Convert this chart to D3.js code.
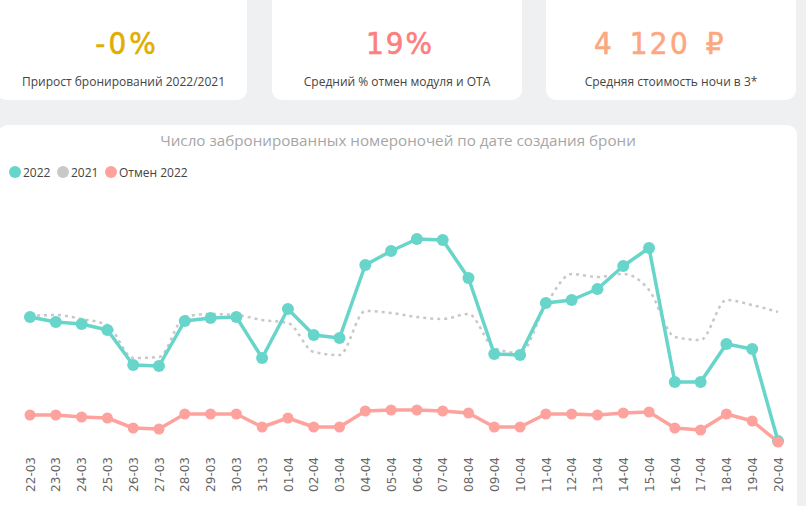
<!DOCTYPE html>
<html>
<head>
<meta charset="utf-8">
<script src="https://cdnjs.cloudflare.com/ajax/libs/d3/7.8.5/d3.min.js"></script>
<style>
html,body{margin:0;padding:0;background:#eff0f2;}
svg{display:block;}
</style>
</head>
<body>
<svg id="chart" width="806" height="506"></svg>
<script>
const dates = ["22-03","23-03","24-03","25-03","26-03","27-03","28-03","29-03","30-03","31-03",
  "01-04","02-04","03-04","04-04","05-04","06-04","07-04","08-04","09-04","10-04",
  "11-04","12-04","13-04","14-04","15-04","16-04","17-04","18-04","19-04","20-04"];
const values2022 = [129,124,122,116,81,80,125,128,129,88,137,111,108,181,195,207,206,168,92,91,143,146,157,180,198,64,64,102,97,5];
const values2021 = [130,131,127,121,88,89,129,132,131,126,123,94,91,135,133,129,127,132,98,93,141,172,169,172,156,109,106,146,141,134];
const valuesCancel2022 = [31,31,29,28,18,17,32,32,32,19,28,19,19,35,36,36,35,33,19,19,32,32,31,33,34,18,16,32,25,4];

const kpiValues = ["-0%", "19%", "4 120 \u20BD"];
const kpiLabels = ["Прирост бронирований 2022/2021", "Средний % отмен модуля и OTA", "Средняя стоимость ночи в 3*"];
const chartTitle = "Число забронированных номероночей по дате создания брони";
const legendLabels = ["2022", "2021", "Отмен 2022"];

const svg = d3.select("#chart");

// KPI cards
const cards = [
  {x: -4, w: 251, color: "#dfae00", nx: 127, ls: 3, ws: 0},
  {x: 272, w: 250, color: "#fc7f7f", nx: 400, ls: 2, ws: 0},
  {x: 546, w: 250, color: "#fda77f", nx: 660, ls: 2.5, ws: 4}
];
cards.forEach((c, i) => {
  svg.append("rect").attr("x", c.x).attr("y", -12).attr("width", c.w).attr("height", 112)
    .attr("rx", 10).attr("fill", "#fff");
  const cx = c.x + c.w / 2 + (i === 0 ? 2 : 0);
  svg.append("text").attr("x", c.nx).attr("y", 54)
    .attr("text-anchor", "middle")
    .attr("font-family", "'DejaVu Sans Condensed', 'DejaVu Sans'")
    .attr("font-size", 31)
    .attr("fill", c.color)
    .attr("stroke", c.color).attr("stroke-width", 0.6)
    .attr("letter-spacing", c.ls)
    .attr("word-spacing", c.ws)
    .text(kpiValues[i]);
  svg.append("text").attr("x", cx).attr("y", 86)
    .attr("text-anchor", "middle")
    .attr("font-family", "'Open Sans', sans-serif")
    .attr("font-size", 12)
    .attr("fill", "#444")
    .text(kpiLabels[i]);
});

// main panel
svg.append("rect").attr("x", -2).attr("y", 125).attr("width", 799).attr("height", 400)
  .attr("rx", 10).attr("fill", "#fff");

svg.append("text").attr("x", 398).attr("y", 146)
  .attr("text-anchor", "middle")
  .attr("font-family", "'Open Sans', sans-serif")
  .attr("font-size", 15.2)
  .attr("fill", "#a6a6a6")
  .text(chartTitle);

// legend
const legendColors = ["#67d5ca", "#c8c8c8", "#fda29c"];
const legendX = [15, 63, 111];
legendLabels.forEach((l, i) => {
  svg.append("circle").attr("cx", legendX[i]).attr("cy", 172).attr("r", 6).attr("fill", legendColors[i]);
  svg.append("text").attr("x", legendX[i] + 8).attr("y", 176.5)
    .attr("font-family", "'Open Sans', sans-serif").attr("font-size", 12)
    .attr("fill", "#444").text(l);
});

// scales
const x = d3.scalePoint().domain(dates).range([30, 778]);
const y = d3.scaleLinear().domain([0, 226]).range([446, 220]);

// 2021 dotted line
const smooth = d3.line().x((d, i) => x(dates[i])).y(d => y(d)).curve(d3.curveMonotoneX);
svg.append("path").datum(values2021)
  .attr("d", smooth).attr("fill", "none")
  .attr("stroke", "#c8c8c8").attr("stroke-width", 2.5)
  .attr("stroke-dasharray", "3,4").attr("stroke-linecap", "butt");

const straight = d3.line().x((d, i) => x(dates[i])).y(d => y(d));

function series(vals, color, sw, r) {
  svg.append("path").datum(vals).attr("d", straight).attr("fill", "none")
    .attr("stroke", color).attr("stroke-width", sw).attr("stroke-linejoin", "round");
  svg.append("g").selectAll("circle").data(vals).join("circle")
    .attr("cx", (d, i) => x(dates[i])).attr("cy", d => y(d)).attr("r", r).attr("fill", color);
}
series(values2022, "#67d5ca", 3.5, 6);
series(valuesCancel2022, "#fda29c", 3.5, 5.5);

// x axis labels
const axis = d3.axisBottom(x).tickSize(0).tickPadding(0);
const gx = svg.append("g").attr("transform", "translate(0,457)").call(axis);
gx.select(".domain").remove();
gx.selectAll("text")
  .attr("font-family", "'DejaVu Sans', sans-serif")
  .attr("font-size", 12)
  .attr("fill", "#666")
  .attr("transform", "rotate(-90)")
  .attr("text-anchor", "end")
  .attr("x", 0).attr("y", 0).attr("dy", "0.35em");
</script>
</body>
</html>
